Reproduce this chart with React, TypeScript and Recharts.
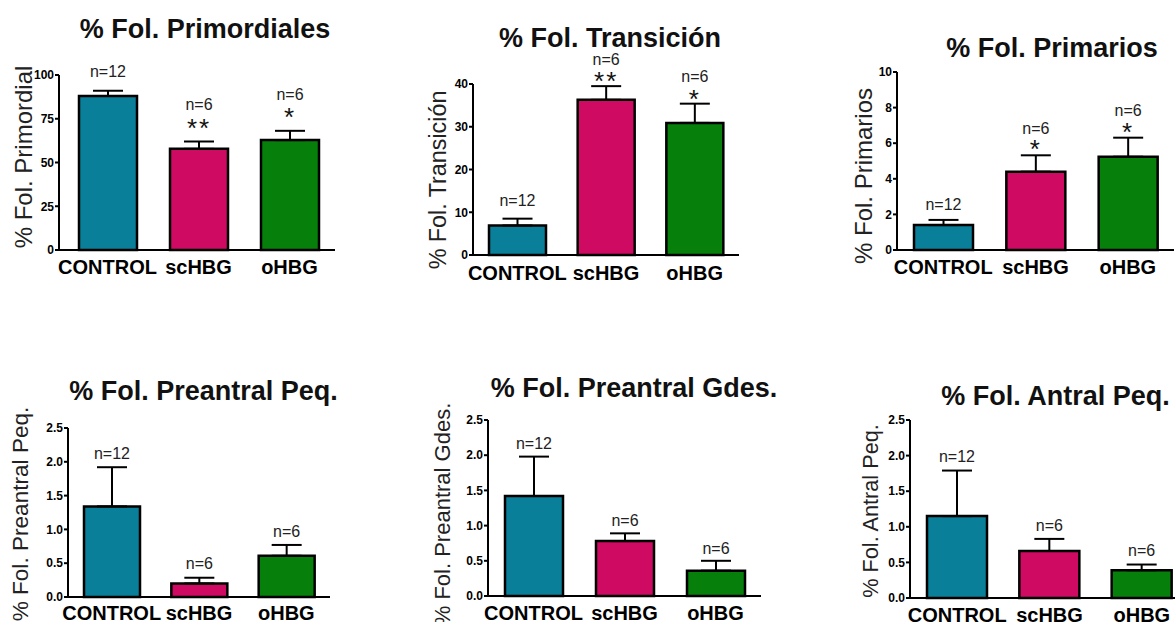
import React from 'react';
import { BarChart, Bar, XAxis, YAxis, ErrorBar, Cell, LabelList } from 'recharts';

// ---------- DATA ----------
const categories = ['CONTROL', 'scHBG', 'oHBG'];
const nLabels = ['n=12', 'n=6', 'n=6'];
const barColors = ['#0A7F99', '#CF0A62', '#06800A'];

const primordialMean = [88.0, 57.8, 62.8];
const primordialSem = [3.0, 4.2, 5.3];
const primordialStars = ['', '**', '*'];
const primordialTicks = [0, 25, 50, 75, 100];

const transicionMean = [6.9, 36.3, 30.9];
const transicionSem = [1.6, 3.2, 4.5];
const transicionStars = ['', '**', '*'];
const transicionTicks = [0, 10, 20, 30, 40];

const primariosMean = [1.4, 4.4, 5.24];
const primariosSem = [0.29, 0.92, 1.07];
const primariosStars = ['', '*', '*'];
const primariosTicks = [0, 2, 4, 6, 8, 10];

const preantralPeqMean = [1.34, 0.2, 0.61];
const preantralPeqSem = [0.58, 0.085, 0.16];
const preantralPeqStars = ['', '', ''];

const preantralGdesMean = [1.42, 0.78, 0.36];
const preantralGdesSem = [0.56, 0.11, 0.14];
const preantralGdesStars = ['', '', ''];

const antralPeqMean = [1.15, 0.66, 0.39];
const antralPeqSem = [0.64, 0.17, 0.08];
const antralPeqStars = ['', '', ''];

const smallTicks = [0, 0.5, 1.0, 1.5, 2.0, 2.5];

const FONT = "'Liberation Sans', Arial, Helvetica, sans-serif";

type Row = { name: string; value: number; sem: number; err: number[]; n: string; stars: string };

const buildRows = (mean: number[], sem: number[], stars: string[]): Row[] =>
  categories.map((c, i) => ({ name: c, value: mean[i], sem: sem[i], err: [0, sem[i]], n: nLabels[i], stars: stars[i] }));

// ---------- LAYOUT (styles / positions, not data) ----------
const panels = [
  {
    title: '% Fol. Primordiales', yLabel: '% Fol. Primordial',
    rows: buildRows(primordialMean, primordialSem, primordialStars), ticks: primordialTicks, decimals: 0,
    left: 0, top: 0, W: 400, H: 300, yAxisW: 59, mTop: 75, mRight: 65, xAxisH: 30, mBottom: 20,
    padL: 3, padR: 0, barSize: 58, tickMargin: 10,
    yLabelDx: 23, yLabelDy: -5.5, yLabelSize: 24, titleX: 205, titleY: 28,
    gaps: { star: 20, nStar: 37, nPlain: 19 },
  },
  {
    title: '% Fol. Transición', yLabel: '% Fol. Transición',
    rows: buildRows(transicionMean, transicionSem, transicionStars), ticks: transicionTicks, decimals: 0,
    left: 400, top: 0, W: 400, H: 300, yAxisW: 73, mTop: 84, mRight: 61, xAxisH: 30, mBottom: 15,
    padL: 0, padR: 0, barSize: 57, tickMargin: 11,
    yLabelDx: 38, yLabelDy: 10.5, yLabelSize: 23.3, titleX: 610, titleY: 37,
    gaps: { star: 11, nStar: 27, nPlain: 18 },
  },
  {
    title: '% Fol. Primarios', yLabel: '% Fol. Primarios',
    rows: buildRows(primariosMean, primariosSem, primariosStars), ticks: primariosTicks, decimals: 0,
    left: 800, top: 0, W: 400, H: 300, yAxisW: 97, mTop: 72, mRight: 26, xAxisH: 30, mBottom: 20,
    padL: 0, padR: 0, barSize: 59, tickMargin: 10,
    yLabelDx: 63, yLabelDy: 15, yLabelSize: 24, titleX: 1052, titleY: 47,
    gaps: { star: 12, nStar: 27, nPlain: 16 },
  },
  {
    title: '% Fol. Preantral Peq.', yLabel: '% Fol. Preantral Peq.',
    rows: buildRows(preantralPeqMean, preantralPeqSem, preantralPeqStars), ticks: smallTicks, decimals: 1,
    left: 0, top: 340, W: 400, H: 282, yAxisW: 68, mTop: 88, mRight: 70, xAxisH: 25, mBottom: 0,
    padL: 0, padR: 0, barSize: 56, tickMargin: 9,
    yLabelDx: 20, yLabelDy: 1.5, yLabelSize: 22.6, titleX: 203.5, titleY: 390,
    gaps: { star: 12, nStar: 27, nPlain: 14 },
  },
  {
    title: '% Fol. Preantral Gdes.', yLabel: '% Fol. Preantral Gdes.',
    rows: buildRows(preantralGdesMean, preantralGdesSem, preantralGdesStars), ticks: smallTicks, decimals: 1,
    left: 400, top: 340, W: 400, H: 282, yAxisW: 88, mTop: 80, mRight: 39, xAxisH: 26, mBottom: 0,
    padL: 0, padR: 0, barSize: 58, tickMargin: 10,
    yLabelDx: 42, yLabelDy: 6, yLabelSize: 22, titleX: 634, titleY: 387,
    gaps: { star: 12, nStar: 27, nPlain: 13 },
  },
  {
    title: '% Fol. Antral Peq.', yLabel: '% Fol. Antral Peq.',
    rows: buildRows(antralPeqMean, antralPeqSem, antralPeqStars), ticks: smallTicks, decimals: 1,
    left: 800, top: 340, W: 420, H: 282, yAxisW: 110, mTop: 80, mRight: 32, xAxisH: 24, mBottom: 0,
    padL: 1, padR: 0, barSize: 60, tickMargin: 9.5,
    yLabelDx: 70, yLabelDy: 2, yLabelSize: 21.7, titleX: 1055.5, titleY: 395,
    gaps: { star: 12, nStar: 27, nPlain: 14 },
  },
];

type Panel = (typeof panels)[number];

const makeAnnotation = (p: Panel) => (props: any) => {
  const vb = props.viewBox ?? props;
  const row = p.rows.find((r) => r.name === props.value) ?? p.rows[props.index ?? 0];
  if (!row || vb == null) return null;
  const h = Math.abs(vb.height);
  const top = Math.min(vb.y, vb.y + vb.height);
  const pxPerUnit = row.value ? h / row.value : 0;
  const errTop = top - row.sem * pxPerUnit;
  const cx = vb.x + vb.width / 2;
  const hasStar = row.stars !== '';
  const nCenter = errTop - (hasStar ? p.gaps.nStar : p.gaps.nPlain);
  const starCenter = errTop - p.gaps.star;
  return (
    <g>
      {hasStar && (
        <text x={cx} y={starCenter + 15} textAnchor="middle" fontSize={26} fontFamily={FONT} fill="#111" letterSpacing={2}>
          {row.stars}
        </text>
      )}
      <text x={cx} y={nCenter + 5.7} textAnchor="middle" fontSize={16} fontFamily={FONT} fill="#222">
        {row.n}
      </text>
    </g>
  );
};

const makeYLabel = (p: Panel) => (props: any) => {
  const vb = props.viewBox;
  const cx = vb.x + p.yLabelDx;
  const cy = vb.y + vb.height / 2 + p.yLabelDy;
  const bx = cx + 0.36 * p.yLabelSize;
  return (
    <text x={bx} y={cy} transform={`rotate(-90 ${bx} ${cy})`} textAnchor="middle" fontSize={p.yLabelSize} fontFamily={FONT} fill="#222">
      {p.yLabel}
    </text>
  );
};

const PanelChart = ({ p }: { p: Panel }) => (
  <div style={{ position: 'absolute', left: p.left, top: p.top, width: p.W, height: p.H }}>
    <BarChart
      width={p.W}
      height={p.H}
      data={p.rows}
      margin={{ top: p.mTop, right: p.mRight, bottom: p.mBottom, left: 0 }}
      style={{ fontFamily: FONT }}
    >
      <XAxis
        dataKey="name"
        interval={0}
        height={p.xAxisH}
        tickLine={false}
        tickSize={0}
        tickMargin={p.tickMargin}
        padding={{ left: p.padL, right: p.padR }}
        axisLine={{ stroke: '#000', strokeWidth: 2 }}
        tick={{ fill: '#000', fontSize: 20, fontWeight: 'bold', fontFamily: FONT }}
      />
      <YAxis
        width={p.yAxisW}
        domain={[0, p.ticks[p.ticks.length - 1]]}
        ticks={p.ticks}
        interval={0}
        tickSize={4}
        tickMargin={1}
        tickFormatter={(v: number) => (p.decimals ? v.toFixed(p.decimals) : String(v))}
        axisLine={{ stroke: '#000', strokeWidth: 2 }}
        tickLine={{ stroke: '#000', strokeWidth: 2 }}
        tick={{ fill: '#000', fontSize: 12, fontWeight: 'bold', fontFamily: FONT }}
        label={makeYLabel(p)}
      />
      <Bar dataKey="value" barSize={p.barSize} stroke="#000" strokeWidth={2.5} isAnimationActive={false}>
        {p.rows.map((r, i) => (
          <Cell key={r.name} fill={barColors[i]} />
        ))}
        <ErrorBar dataKey="err" width={15} stroke="#000" strokeWidth={2} isAnimationActive={false} />
        <LabelList dataKey="name" content={makeAnnotation(p)} />
      </Bar>
    </BarChart>
  </div>
);

export default function App() {
  return (
    <div style={{ position: 'absolute', left: 0, top: 0, width: 1175, height: 622, overflow: 'hidden', background: '#fff' }}>
      {panels.map((p) => (
        <PanelChart key={p.title} p={p} />
      ))}
      <svg width={1175} height={622} style={{ position: 'absolute', left: 0, top: 0, pointerEvents: 'none' }}>
        {panels.map((p) => (
          <text key={p.title} x={p.titleX} y={p.titleY + 9.7} textAnchor="middle" fontSize={27} fontWeight="bold" fontFamily={FONT} fill="#111">
            {p.title}
          </text>
        ))}
      </svg>
    </div>
  );
}
